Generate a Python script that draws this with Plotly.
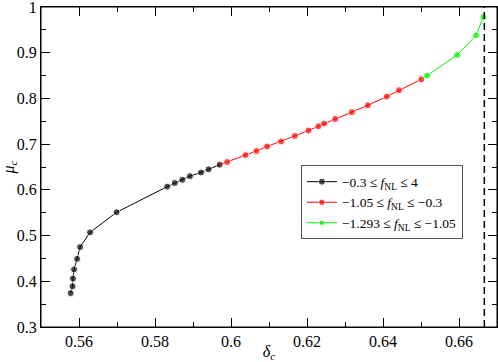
import plotly.graph_objects as go

# delta_c, mu_c, one group per f_NL range
delta_black = [0.5578, 0.5583, 0.5584, 0.5587, 0.5595, 0.5603, 0.5629, 0.5699,
               0.5832, 0.5852, 0.5872, 0.5892, 0.5921, 0.5941, 0.5970]
mu_black = [0.374, 0.389, 0.406, 0.426, 0.449, 0.475, 0.507, 0.551,
            0.607, 0.615, 0.622, 0.630, 0.638, 0.645, 0.655]

delta_red = [0.5970, 0.5990, 0.6038, 0.6067, 0.6095, 0.6132, 0.6168, 0.6204,
             0.6230, 0.6245, 0.6274, 0.6318, 0.6360, 0.6410, 0.6442, 0.6501]
mu_red = [0.655, 0.661, 0.676, 0.685, 0.695, 0.706, 0.718, 0.730,
          0.739, 0.745, 0.755, 0.770, 0.785, 0.804, 0.818, 0.842]

delta_green = [0.6501, 0.6516, 0.6595, 0.6645, 0.6664]
mu_green = [0.842, 0.850, 0.895, 0.938, 0.978]

labels = [
    '\u22120.3 \u2264 <i>f</i><sub>NL</sub> \u2264 4',
    '\u22121.05 \u2264 <i>f</i><sub>NL</sub> \u2264 \u22120.3',
    '\u22121.293 \u2264 <i>f</i><sub>NL</sub> \u2264 \u22121.05',
]
x_ticks = [0.56, 0.58, 0.60, 0.62, 0.64, 0.66]
x_ticktext = ['0.56', '0.58', '0.6', '0.62', '0.64', '0.66']
y_ticks = [0.3, 0.4, 0.5, 0.6, 0.7, 0.8, 0.9, 1.0]
y_ticktext = ['0.3', '0.4', '0.5', '0.6', '0.7', '0.8', '0.9', '1']
DELTA_LIMIT = 2 / 3

FONT = 'Liberation Serif'

fig = go.Figure()

series = [
    (delta_black, mu_black, 'black', labels[0], False),
    (delta_red, mu_red, '#ff0000', labels[1], True),
    (delta_green, mu_green, '#00ee00', labels[2], True),
]
for xs, ys, color, name, skip_first in series:
    # each group's line starts at the previous group's last point,
    # but that shared point keeps the previous colour
    sizes = [0 if (skip_first and i == 0) else 7 for i in range(len(xs))]
    fig.add_trace(go.Scatter(
        x=xs, y=ys, mode='lines+markers', name=name,
        line=dict(color=color, width=1),
        marker=dict(color=color, size=sizes)))

fig.add_vline(x=DELTA_LIMIT, layer='above',
              line=dict(color='black', width=1.5, dash='7px,4px'))

# frame round the plot area
fig.add_shape(type='rect', xref='x domain', yref='y domain',
              x0=0, x1=1, y0=0, y1=1, layer='above',
              line=dict(color='black', width=1))

axis_common = dict(
    showgrid=False, zeroline=False, showline=True, linecolor='black',
    linewidth=1, mirror='allticks', ticks='inside', ticklen=9,
    tickcolor='black', tickfont=dict(family=FONT, size=16, color='black'),
    automargin=False, ticklabeloverflow='allow',
)

fig.update_layout(
    width=498, height=362,
    margin=dict(l=41, r=1, t=7, b=35),
    plot_bgcolor='white', paper_bgcolor='white',
    font=dict(family=FONT, color='black'),
    xaxis=dict(
        range=[0.55, 0.67], tickvals=x_ticks, ticktext=x_ticktext,
        minor=dict(dtick=0.01, tick0=0.55, ticks='inside', ticklen=5,
                   tickcolor='black'),
        title=dict(text='<i>\u03b4</i><sub><i>c</i></sub>',
                   font=dict(family=FONT, size=16), standoff=0),
        **axis_common),
    yaxis=dict(
        range=[0.3, 1.0], tickvals=y_ticks, ticktext=y_ticktext,
        minor=dict(dtick=0.05, tick0=0.3, ticks='inside', ticklen=5,
                   tickcolor='black'),
        title=dict(text='<i>\u03bc</i><sub><i>c</i></sub>',
                   font=dict(family=FONT, size=16), standoff=4),
        **axis_common),
    legend=dict(
        x=0.570, y=0.505, xanchor='left', yanchor='top',
        bordercolor='#555555', borderwidth=1, bgcolor='white',
        font=dict(family=FONT, size=13.5), tracegroupgap=0,
        itemwidth=30),
)

fig.write_html('out.html', config={'displayModeBar': False},
               post_script="document.body.style.margin='0px';")
